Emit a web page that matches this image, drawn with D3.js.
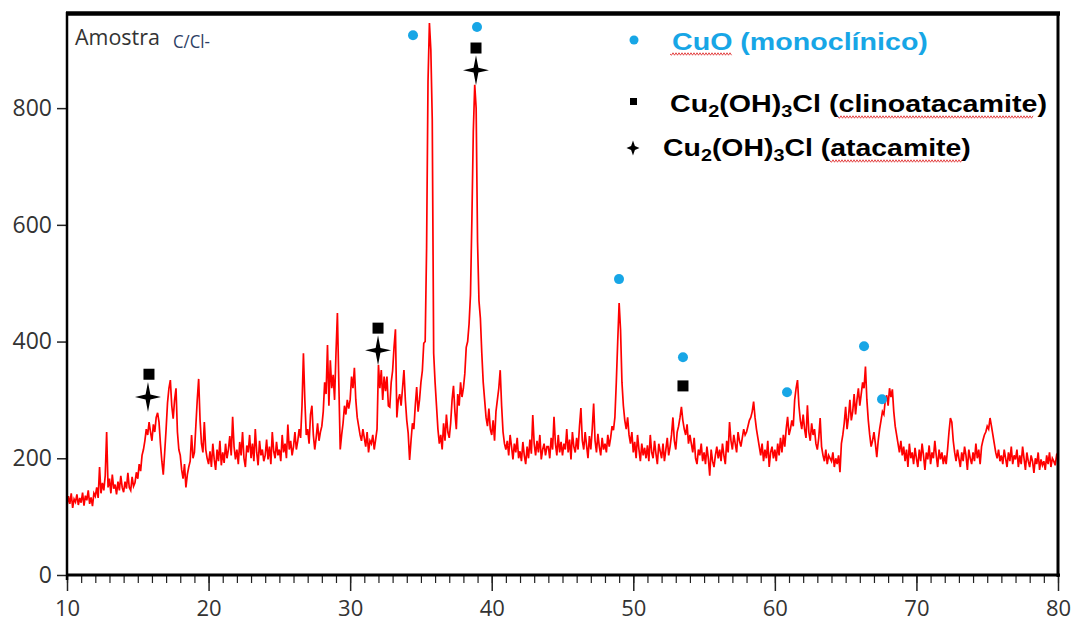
<!DOCTYPE html>
<html><head><meta charset="utf-8">
<script src="https://cdn.jsdelivr.net/npm/d3@7"></script>
<style>body{margin:0;background:#fff}svg{display:block}</style>
</head><body>
<svg id="chart" width="1075" height="624"></svg>
<script>
// ---- data ----
const angleStart = 10, angleStep = 0.1;   // 2θ grid of the scan
const intensity = [
118,135,122,140,115,130,125,138,120,132,
124,141,119,136,128,145,122,133,118,140,
135,150,132,185,140,158,145,170,245,150,
165,140,172,148,155,138,160,145,170,150,
142,160,148,175,150,145,168,152,158,176,
165,190,178,205,215,230,250,240,262,245,
230,258,245,270,278,262,225,195,172,210,
250,295,320,334,290,268,300,320,245,215,
205,180,165,190,150,172,185,195,240,200,
210,255,300,336,265,225,210,262,215,200,
190,212,185,225,198,180,215,195,230,188,
210,192,225,200,215,238,205,271,220,198,
215,190,228,205,245,200,185,222,210,240,
200,225,195,250,210,188,230,205,215,195,
205,232,198,220,190,245,212,200,228,205,
215,195,240,210,225,200,258,215,230,205,
220,245,215,230,250,235,290,380,300,240,
250,225,275,290,240,215,235,260,230,245,
255,280,330,310,394,290,368,320,343,300,
380,449,330,215,240,260,290,275,300,285,
300,340,320,355,300,270,255,240,230,250,
235,220,245,210,230,225,240,215,232,250,
360,320,351,300,340,315,340,290,288,330,
350,390,421,270,300,310,290,320,351,300,
265,243,197,230,260,250,290,322,280,300,
330,350,397,400,560,845,946,900,780,380,
330,290,250,225,240,215,260,230,275,245,
235,260,300,324,280,250,310,290,330,305,
320,345,390,400,430,480,610,760,840,800,
570,470,440,380,330,300,270,255,285,250,
240,265,230,280,300,320,351,290,245,225,
215,230,205,240,220,198,225,210,235,200,
212,195,228,205,190,220,200,232,208,274,
225,205,230,210,240,198,215,225,205,220,
220,200,235,215,271,225,205,240,210,228,
205,225,215,250,210,232,198,245,220,210,
235,215,255,286,230,215,245,222,200,238,
215,250,294,230,210,242,220,205,235,215,
225,210,240,220,235,255,248,270,330,400,
466,420,330,290,265,250,270,240,225,245,
210,228,200,240,215,195,225,205,218,200,
222,195,240,210,200,230,208,190,225,212,
200,225,195,215,235,205,220,240,270,230,
215,245,255,270,288,265,250,240,258,225,
240,225,210,235,200,190,215,205,225,195,
210,190,220,200,170,215,195,185,205,220,
200,215,195,225,205,190,230,210,262,230,
215,240,225,210,245,230,220,235,250,240,
245,255,265,270,280,297,270,250,235,220,
205,225,195,215,200,230,185,210,220,200,
215,195,225,205,235,210,240,220,250,271,
240,250,265,255,300,320,334,290,265,250,
275,250,235,291,245,230,260,240,250,225,
215,235,269,220,205,195,215,190,205,200,
195,210,185,200,190,205,176,225,240,260,
288,250,270,300,265,280,310,275,300,320,
290,310,330,320,357,300,265,240,220,230,
245,225,202,230,250,265,280,275,300,308,
290,320,305,318,280,255,240,225,210,230,
205,220,195,215,185,225,200,210,190,218,
200,185,215,195,225,205,180,210,198,222,
190,210,200,230,205,185,215,198,210,190,
205,190,215,245,269,262,230,210,195,215,
200,185,210,195,220,205,180,215,200,190,
210,195,225,200,215,190,220,231,240,245,
255,250,269,255,240,225,210,200,215,195,
205,190,215,200,185,210,195,220,190,205,
198,215,185,205,190,220,200,180,210,195,
185,205,195,175,200,190,210,180,198,188,
195,180,205,190,210,185,200,195,188,205,
200];

const xTicks = [10,20,30,40,50,60,70,80];
const yTicks = [0,200,400,600,800];

// phase markers: [2θ, intensity]
const cuoMarks   = [[34.44,925],[38.96,939],[48.99,507],[53.51,373],[60.86,313],[66.30,392],[67.57,301]];
const clinoMarks = [[15.79,344],[31.97,423],[38.89,903],[53.51,324]];
const ataMarks   = [[15.72,305],[31.97,385],[38.89,865]];

const titleMain = "Amostra", titleSub = "C/Cl-";
const legendCuO = "CuO (monoclínico)";
const legendClino = ["Cu","2","(OH)","3","Cl (clinoatacamite)"];
const legendAta = ["Cu","2","(OH)","3","Cl (atacamite)"];

// ---- chart ----
const svg = d3.select('#chart');
const x = d3.scaleLinear().domain([10,80]).range([67,1058]);
const y = d3.scaleLinear().domain([0,963]).range([575,13]);
const BLUE = '#17a6e6';

// data line
svg.append('path').datum(intensity)
  .attr('fill','none').attr('stroke','#ff0000').attr('stroke-width',1.7)
  .attr('d', d3.line().x((d,i)=>x(angleStart+i*angleStep)).y(d=>y(d)));

// axes
const minor = svg.append('g').attr('transform','translate(0,575)')
  .call(d3.axisBottom(x).ticks(70).tickSize(8).tickFormat(''));
minor.select('.domain').remove();
minor.selectAll('line').attr('stroke','#222').attr('stroke-width',1.2);

const xa = svg.append('g').attr('transform','translate(0,575)')
  .call(d3.axisBottom(x).tickValues(xTicks).tickSize(16).tickPadding(15).tickFormat(d3.format('d')));
xa.select('.domain').remove();
xa.selectAll('line').attr('stroke','#222').attr('stroke-width',1.5);
xa.selectAll('text').attr('font-family','Open Sans, sans-serif').attr('font-size',22)
  .attr('fill','#333').attr('dy','0.45em');

const ya = svg.append('g').attr('transform','translate(67,0)')
  .call(d3.axisLeft(y).tickValues(yTicks).tickSize(10).tickPadding(5).tickFormat(d3.format('d')));
ya.select('.domain').remove();
ya.selectAll('line').attr('stroke','#222').attr('stroke-width',1.5);
ya.selectAll('text').attr('font-family','Open Sans, sans-serif').attr('font-size',23).attr('fill','#333');

// frame
svg.append('line').attr('x1',67).attr('x2',67).attr('y1',12).attr('y2',580).attr('stroke','#000').attr('stroke-width',2.5);
svg.append('line').attr('x1',66).attr('x2',1060).attr('y1',575).attr('y2',575).attr('stroke','#000').attr('stroke-width',3);
svg.append('line').attr('x1',66).attr('x2',1060).attr('y1',13.5).attr('y2',13.5).attr('stroke','#000').attr('stroke-width',4.5);
svg.append('line').attr('x1',1058).attr('x2',1058).attr('y1',12).attr('y2',577).attr('stroke','#000').attr('stroke-width',3);

// markers
function star4(r, ri){
  return `M0,${-r*1.15}L${ri},${-ri}L${r},0L${ri},${ri}L0,${r*1.15}L${-ri},${ri}L${-r},0L${-ri},${-ri}Z`;
}
svg.append('g').selectAll('circle').data(cuoMarks).join('circle')
  .attr('cx',d=>x(d[0])).attr('cy',d=>y(d[1])).attr('r',5).attr('fill',BLUE);
svg.append('g').selectAll('rect').data(clinoMarks).join('rect')
  .attr('x',d=>x(d[0])-5.5).attr('y',d=>y(d[1])-5.5).attr('width',11).attr('height',11).attr('fill','#000');
svg.append('g').selectAll('path').data(ataMarks).join('path')
  .attr('transform',d=>`translate(${x(d[0])},${y(d[1])})`).attr('d',star4(13,2.4)).attr('fill','#000');

// helper to place text stretched to a target width
function fitGroup(g, x0, y0, w){
  const bb = g.node().getBBox();
  g.attr('transform',`translate(${x0},${y0}) scale(${w/bb.width},1)`);
}

// title
const tg = svg.append('g');
tg.append('text').attr('x',0).attr('y',0).attr('font-family','Open Sans, sans-serif')
  .attr('font-size',21).attr('fill','#333').text(titleMain);
fitGroup(tg, 75, 45, 85);
const tg2 = svg.append('g');
tg2.append('text').attr('x',0).attr('y',0).attr('font-family','Open Sans, sans-serif')
  .attr('font-size',19).attr('fill','#2c3d63').text(titleSub);
fitGroup(tg2, 173, 48, 37);

// legend
svg.append('circle').attr('cx',634).attr('cy',40).attr('r',4.5).attr('fill',BLUE);
const l1 = svg.append('g');
l1.append('text').attr('font-family','Liberation Sans, Arial, sans-serif').attr('font-weight','bold')
  .attr('font-size',23).attr('fill',BLUE).text(legendCuO);
fitGroup(l1, 672, 50, 256);

function formula(g, parts, color){
  const t = g.append('text').attr('font-family','Liberation Sans, Arial, sans-serif')
    .attr('font-weight','bold').attr('font-size',23).attr('fill',color);
  parts.forEach((p,i)=>{
    const sub = i===1 || i===3;
    t.append('tspan').attr('font-size', sub?16:23).attr('dy', sub?5:(i===0?0:-5)).text(p);
  });
}
svg.append('rect').attr('x',630).attr('y',98).attr('width',7).attr('height',7).attr('fill','#000');
const l2 = svg.append('g'); formula(l2, legendClino, '#000'); fitGroup(l2, 670, 112, 377);
svg.append('path').attr('transform','translate(633,148)').attr('d',star4(6.5,1.9)).attr('fill','#000');
const l3 = svg.append('g'); formula(l3, legendAta, '#000'); fitGroup(l3, 663, 156, 308);

// spell-check squiggles
function squiggle(x0,x1,yy){
  let p=`M${x0},${yy}`; let k=0;
  for(let xx=x0+1.5; xx<=x1; xx+=1.5){ k++; p+=`L${xx},${yy+(k%2?1.2:-1.2)}`; }
  svg.append('path').attr('d',p).attr('fill','none').attr('stroke','#e03030').attr('stroke-width',0.9);
}
squiggle(670,732,54);
squiggle(838,1034,117);
squiggle(830,963,161);
</script>
</body></html>
